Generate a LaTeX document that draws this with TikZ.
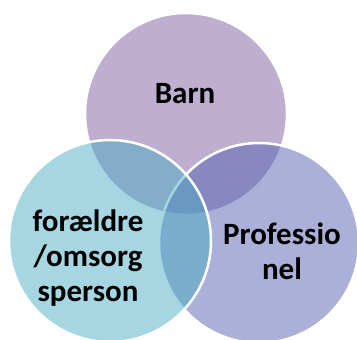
\documentclass[tikz,border=0pt]{standalone}
\usepackage{fontspec}
\setmainfont{Carlito}
\definecolor{barnfill}{RGB}{125,93,161}
\definecolor{profffill}{RGB}{85,97,177}
\definecolor{foraefill}{RGB}{75,173,197}
\tikzset{
  venn/.style={draw=white, line width=2.5pt, fill opacity=0.5, draw opacity=1},
  label/.style={font=\bfseries\fontsize{31}{35}\selectfont, align=center, text=black}
}
\begin{document}
\begin{tikzpicture}[x=1pt, y=1pt]
            \useasboundingbox (0, 0) rectangle (357, 340);
            \clip (0, 0) rectangle (357, 340);

            % Circles
            \coordinate (B) at (186, 226);
            \coordinate (P) at (259, 97);
            \coordinate (F) at (110, 99);
            \filldraw[venn, fill=barnfill] (B) circle (101);
            \filldraw[venn, fill=profffill] (P) circle (100);
            \filldraw[venn, fill=foraefill] (F) circle (101);

            % Labels
            \node[label] (barn) at (185, 246) {Barn};
            \node[label] (prof) at (282, 89) {Professio\\nel};
            \node[label] (forae) at (88, 82) {forældre\\/omsorg\\sperson};

        \end{tikzpicture}
\end{document}
